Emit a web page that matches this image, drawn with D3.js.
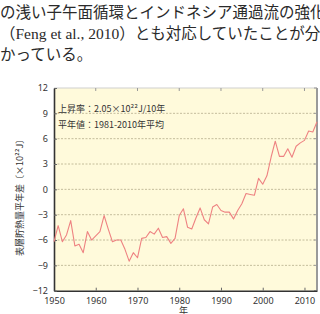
<!DOCTYPE html>
<html>
<head>
<meta charset="utf-8">
<script src="https://cdn.jsdelivr.net/npm/d3@7"></script>
<style>
  body { margin: 0; background: #fff; }
  svg { display: block; }
</style>
</head>
<body>
<div id="chart"></div>
<script>
// Body text shown above the chart.
const bodyLines = [
    "の浅い子午面循環とインドネシア通過流の強化",
    "（Feng et al., 2010）とも対応していたことが分",
    "かっている。"
];

// Heat content anomaly (x10^22 J), 1950-2013.
const years = d3.range(1950, 2014);
const anomaly = [
    -6.2, -4.3, -6.2, -5.4, -3.7, -6.7, -6.5, -7.5, -5.0, -6.0,
    -5.5, -5.0, -3.1, -4.7, -6.2, -6.0, -6.0, -7.1, -8.5, -7.5,
    -8.1, -5.8, -5.7, -5.0, -5.3, -4.6, -5.7, -5.6, -6.4, -5.8,
    -3.1, -2.3, -4.5, -4.7, -3.4, -2.2, -3.6, -4.1, -2.1, -1.8,
    -2.5, -2.7, -2.7, -3.5, -2.5, -1.7, -0.5, -0.6, -0.7, 1.3,
    0.6, 1.6, 3.8, 5.7, 3.9, 3.9, 4.8, 3.8, 5.1, 5.5,
    5.8, 6.9, 6.8, 8.0
];
const yTicks = [-12, -9, -6, -3, 0, 3, 6, 9, 12];
const xTicks = [1950, 1960, 1970, 1980, 1990, 2000, 2010];
const notes = ["上昇率：2.05×10²²J/10年", "平年値：1981-2010年平均"];

const width = 320, height = 314;
const plotLeft = 54, plotRight = 317, plotTop = 88, plotBottom = 290.7;

const svg = d3.select("#chart").append("svg")
    .attr("width", width)
    .attr("height", height);

// Paragraph text.
svg.append("g")
    .attr("font-family", "'Liberation Serif', 'Noto Sans CJK JP', serif")
    .attr("font-size", 15.5)
    .attr("fill", "#2a2a2a")
    .selectAll("text")
    .data(bodyLines)
    .join("text")
        .attr("x", 0)
        .attr("y", (d, i) => 18 + i * 21)
        .text(d => d);

const x = d3.scaleLinear().domain([1950, 2013]).range([plotLeft, plotRight]);
const y = d3.scaleLinear().domain([-12, 12]).range([plotBottom, plotTop]);

// Plot background.
svg.append("rect")
    .attr("x", plotLeft).attr("y", plotTop)
    .attr("width", plotRight - plotLeft).attr("height", plotBottom - plotTop)
    .attr("fill", "#fffadb");

// Grid lines.
svg.append("g")
    .attr("stroke", "#b5ad8c")
    .attr("stroke-width", 0.8)
    .attr("stroke-dasharray", "2,1.5")
    .selectAll("line")
    .data(yTicks.filter(d => d > -12 && d < 12))
    .join("line")
        .attr("x1", plotLeft).attr("x2", plotRight)
        .attr("y1", d => y(d)).attr("y2", d => y(d));

// Frame: top and right borders.
svg.append("line")
    .attr("x1", plotLeft).attr("x2", plotRight).attr("y1", plotTop).attr("y2", plotTop)
    .attr("stroke", "#cfcfcf").attr("stroke-width", 1);
svg.append("line")
    .attr("x1", plotRight).attr("x2", plotRight).attr("y1", plotTop).attr("y2", plotBottom)
    .attr("stroke", "#9a9a9a").attr("stroke-width", 2);

// Inward ticks on top and right.
svg.append("g")
    .attr("stroke", "#999")
    .selectAll("line")
    .data(xTicks.slice(1))
    .join("line")
        .attr("x1", d => x(d)).attr("x2", d => x(d))
        .attr("y1", plotTop).attr("y2", plotTop + 3);
svg.append("g")
    .attr("stroke", "#999")
    .selectAll("line")
    .data(yTicks)
    .join("line")
        .attr("x1", plotRight - 3).attr("x2", plotRight)
        .attr("y1", d => y(d)).attr("y2", d => y(d));

// Axes.
const axisFont = "'Noto Sans', 'Noto Sans CJK JP', sans-serif";
const xAxis = svg.append("g")
    .attr("transform", `translate(0,${plotBottom})`)
    .call(d3.axisBottom(x).tickValues(xTicks).tickFormat(d3.format("d")).tickSizeInner(-3).tickSizeOuter(0).tickPadding(7));
const yAxis = svg.append("g")
    .attr("transform", `translate(${plotLeft},0)`)
    .call(d3.axisLeft(y).tickValues(yTicks).tickSizeInner(-3).tickSizeOuter(0).tickPadding(6));
[xAxis, yAxis].forEach(g => {
    g.select(".domain").attr("stroke", "#333").attr("stroke-width", 1.6);
    g.selectAll(".tick line").attr("stroke", "#666");
    g.selectAll("text")
        .attr("font-family", axisFont)
        .attr("font-size", 9)
        .attr("fill", "#333");
});
yAxis.selectAll(".tick text").text(d => d < 0 ? "−" + Math.abs(d) : d);

// Data line.
const line = d3.line()
    .x((d, i) => x(years[i]))
    .y(d => y(d));
svg.append("path")
    .datum(anomaly)
    .attr("fill", "none")
    .attr("stroke", "#ee8282")
    .attr("stroke-width", 1.1)
    .attr("stroke-linejoin", "round")
    .attr("d", line);

// Notes in the plot.
svg.append("g")
    .attr("font-family", "'Noto Sans CJK JP', sans-serif")
    .attr("font-size", 9)
    .attr("fill", "#333")
    .selectAll("text")
    .data(notes)
    .join("text")
        .attr("x", plotLeft + 4)
        .attr("y", (d, i) => 112 + i * 16)
        .text(d => d);

// Axis titles.
svg.append("text")
    .attr("x", x(1981))
    .attr("y", 314)
    .attr("text-anchor", "middle")
    .attr("font-family", "'Noto Sans CJK JP', sans-serif")
    .attr("font-size", 9)
    .attr("fill", "#333")
    .text("年");
svg.append("text")
    .attr("transform", `translate(23,${y(0) + 6}) rotate(-90)`)
    .attr("text-anchor", "middle")
    .attr("font-family", "'Noto Sans CJK JP', sans-serif")
    .attr("font-size", 9)
    .attr("fill", "#333")
    .text("表層貯熱量平年差〔×10²²J〕");
</script>
</body>
</html>
